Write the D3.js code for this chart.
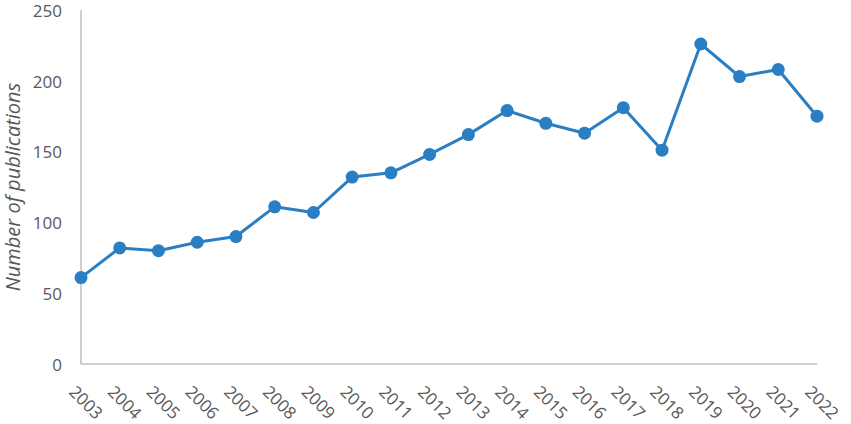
<!DOCTYPE html>
<html>
<head>
<meta charset="utf-8">
<script src="https://cdn.jsdelivr.net/npm/d3@7"></script>
<style>
  body { margin: 0; background: #fff; }
  text { font-family: "Open Sans", sans-serif; fill: #595959; }
</style>
</head>
<body>
<div id="chart"></div>
<script>
const years = ["2003","2004","2005","2006","2007","2008","2009","2010","2011","2012",
               "2013","2014","2015","2016","2017","2018","2019","2020","2021","2022"];
const publications = [61, 82, 80, 86, 90, 111, 107, 132, 135, 148,
                      162, 179, 170, 163, 181, 151, 226, 203, 208, 175];
const yTicks = [0, 50, 100, 150, 200, 250];

const width = 851, height = 424;
const margin = {top: 10, right: 34, bottom: 60, left: 81};

const svg = d3.select("#chart")
    .append("svg")
    .attr("width", width)
    .attr("height", height);

const xScale = d3.scalePoint().domain(years).range([margin.left, width - margin.right]);
const yScale = d3.scaleLinear().domain([0, 250]).range([height - margin.bottom, margin.top]);

// axis lines
svg.append("line")
    .attr("x1", margin.left).attr("x2", margin.left)
    .attr("y1", yScale(250)).attr("y2", yScale(0))
    .attr("stroke", "#bfbfbf").attr("stroke-width", 1.5);

svg.append("line")
    .attr("x1", margin.left).attr("x2", width - margin.right)
    .attr("y1", yScale(0)).attr("y2", yScale(0))
    .attr("stroke", "#bfbfbf").attr("stroke-width", 1.5);

// y tick labels
svg.selectAll(".ylab")
    .data(yTicks)
    .enter()
    .append("text")
    .attr("class", "ylab")
    .attr("x", 62)
    .attr("y", d => yScale(d))
    .attr("dy", "0.4em")
    .attr("text-anchor", "end")
    .style("font-size", "17px")
    .text(d => d);

// x tick labels, rotated
svg.selectAll(".xlab")
    .data(years)
    .enter()
    .append("text")
    .attr("class", "xlab")
    .attr("transform", d => `translate(${xScale(d) - 13},${yScale(0) + 29}) rotate(45)`)
    .attr("text-anchor", "start")
    .style("font-size", "17px")
    .text(d => d);

// y axis title
svg.append("text")
    .attr("transform", `translate(20,${(yScale(0) + yScale(250)) / 2}) rotate(-90)`)
    .attr("text-anchor", "middle")
    .style("font-size", "20px")
    .style("font-style", "italic")
    .text("Number of publications");

const data = years.map((y, i) => ({year: y, value: publications[i]}));

const lineGenerator = d3.line()
    .x(d => xScale(d.year))
    .y(d => yScale(d.value));

svg.append("path")
    .datum(data)
    .attr("fill", "none")
    .attr("stroke", "#2a7ec3")
    .attr("stroke-width", 3)
    .attr("stroke-linejoin", "round")
    .attr("d", lineGenerator);

svg.selectAll(".dot")
    .data(data)
    .enter()
    .append("circle")
    .attr("class", "dot")
    .attr("cx", d => xScale(d.year))
    .attr("cy", d => yScale(d.value))
    .attr("r", 6.5)
    .attr("fill", "#2a7ec3");
</script>
</body>
</html>
